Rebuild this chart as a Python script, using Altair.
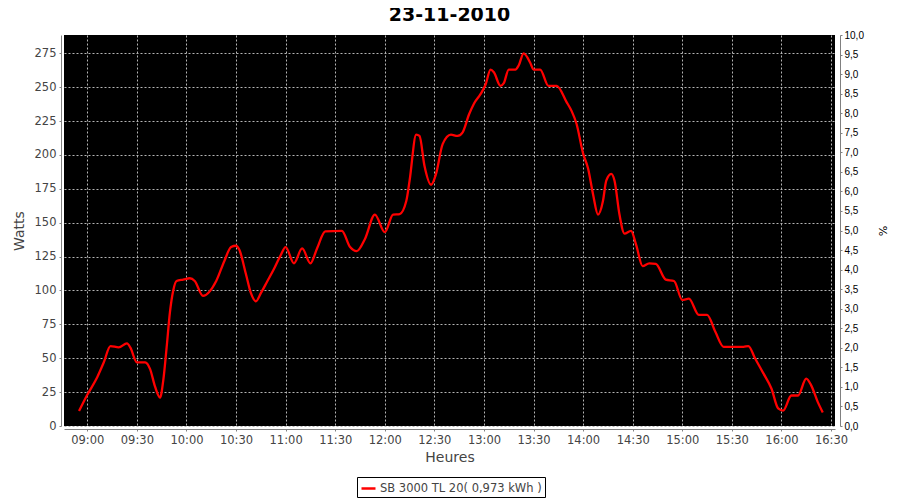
import altair as alt
import pandas as pd

# ---- data ----
times = ["08:55", "09:00", "09:06", "09:10", "09:14", "09:19", "09:24", "09:26", "09:30", "09:35",
         "09:38", "09:41", "09:44", "09:46", "09:48", "09:50", "09:52", "09:54", "09:58", "10:02",
         "10:05", "10:10", "10:18", "10:23", "10:27", "10:30", "10:32", "10:36", "10:39", "10:42",
         "10:45", "10:49", "10:53", "10:57", "11:00", "11:05", "11:10", "11:15", "11:19", "11:24",
         "11:34", "11:39", "11:43", "11:48", "11:54", "12:00", "12:05", "12:09", "12:13", "12:15",
         "12:19", "12:21", "12:24", "12:28", "12:31", "12:35", "12:40", "12:44", "12:47", "12:51",
         "12:54", "12:58", "13:01", "13:04", "13:06", "13:10", "13:12", "13:15", "13:19", "13:21",
         "13:24", "13:28", "13:30", "13:34", "13:39", "13:44", "13:50", "13:53", "13:56", "14:00",
         "14:03", "14:06", "14:09", "14:12", "14:14", "14:17", "14:19", "14:22", "14:25", "14:29",
         "14:32", "14:36", "14:40", "14:44", "14:50", "14:55", "15:00", "15:04", "15:10", "15:15",
         "15:20", "15:25", "15:31", "15:37", "15:40", "15:44", "15:49", "15:54", "15:58", "16:01",
         "16:06", "16:10", "16:15", "16:18", "16:22", "16:25"]
watts = [11, 23, 36, 47, 59, 58, 61, 58, 47, 47,
         42, 29, 21, 34, 58, 84, 100, 107, 108, 109,
         107, 96, 107, 122, 132, 133, 130, 112, 98, 92,
         98, 107, 116, 126, 132, 120, 131, 120, 131, 143.6,
         144, 132, 129, 138, 156, 143, 156, 156.4, 166, 181,
         215, 214, 192, 178, 186, 208, 215, 214, 216.5, 230,
         238, 245, 252, 263, 261, 251, 253, 263, 263, 266,
         275, 268, 263, 263, 251, 251, 239, 232.5, 223, 201,
         190, 171, 156, 166, 181, 186, 181, 156, 142, 144,
         134, 118, 120, 119.6, 108, 107, 93, 94, 82, 82,
         69.5, 58.4, 58.4, 58.4, 59, 50, 39, 27.5, 13, 11.4,
         22.5, 22.5, 35, 30, 17.6, 10]
series_name = "SB 3000 TL 20( 0,973 kWh )"
pct_axis = [0, 10]

x_ticks = [540 + 30 * i for i in range(16)]          # 09:00 .. 16:30
y_ticks = [25 * i for i in range(12)]                # 0 .. 275
pct_ticks = [0.5 * i for i in range(21)]             # 0,0 .. 10,0


def to_min(s):
    h, m = s.split(":")
    return int(h) * 60 + int(m)


df = pd.DataFrame({"t": [to_min(s) for s in times], "w": watts, "serie": series_name})
pct_df = pd.DataFrame({"pct": pct_axis})

FONT = "DejaVu Sans"
AXIS_GRAY = "#808080"
LABEL_GRAY = "#444444"

hhmm = ("pad(toString(floor(datum.value / 60)), 2, '0', 'left') + ':' + "
        "pad(toString(datum.value % 60), 2, '0', 'left')")

line = alt.Chart(df).mark_line(interpolate="monotone", strokeWidth=2.3, clip=True).encode(
    x=alt.X("t:Q",
            scale=alt.Scale(domain=[525.9, 992.4], nice=False, zero=False),
            axis=alt.Axis(values=x_ticks, labelExpr=hhmm, title="Heures",
                          offset=3, domainColor=AXIS_GRAY, tickColor=AXIS_GRAY, tickSize=2,
                          labelColor=LABEL_GRAY, labelFont=FONT, labelFontSize=11.5,
                          labelPadding=3, labelFlush=False,
                          titleFont=FONT, titleFontSize=14, titleFontWeight="normal",
                          titleColor=LABEL_GRAY, titlePadding=5,
                          grid=True, gridColor="#b4b4b4", gridDash=[2, 2], gridWidth=1)),
    y=alt.Y("w:Q",
            scale=alt.Scale(domain=[0, 288.5], nice=False),
            axis=alt.Axis(values=y_ticks, title="Watts",
                          offset=3, domainColor=AXIS_GRAY, tickColor=AXIS_GRAY, tickSize=2,
                          labelColor=LABEL_GRAY, labelFont=FONT, labelFontSize=11.5,
                          labelPadding=3, labelFlush=False,
                          titleFont=FONT, titleFontSize=14, titleFontWeight="normal",
                          titleColor=LABEL_GRAY, titlePadding=8,
                          grid=True, gridColor="#b4b4b4", gridDash=[2, 2], gridWidth=1)),
    color=alt.Color("serie:N",
                    scale=alt.Scale(range=["#ff0000"]),
                    legend=alt.Legend(title=None, orient="none", legendX=293, legendY=442,
                                      strokeColor="black", fillColor="white", padding=3,
                                      symbolType="stroke", symbolStrokeWidth=2.5, symbolSize=196,
                                      labelFont=FONT, labelFontSize=11.5, labelColor=LABEL_GRAY,
                                      labelOffset=3, labelLimit=400)),
)

right = alt.Chart(pct_df).mark_point(opacity=0).encode(
    y=alt.Y("pct:Q",
            scale=alt.Scale(domain=[0, 10], nice=False),
            axis=alt.Axis(orient="right", values=pct_ticks, title="%",
                          labelExpr="replace(format(datum.value, '.1f'), '.', ',')",
                          offset=5, domainColor=AXIS_GRAY, tickColor=AXIS_GRAY, tickSize=2,
                          labelColor="black", labelFont="Liberation Sans", labelFontSize=10,
                          labelPadding=2, labelFlush=False,
                          titleFont=FONT, titleFontSize=11, titleFontWeight="normal",
                          titleColor="black", titlePadding=13, grid=False)),
)

chart = alt.layer(line, right).resolve_scale(y="independent").properties(
    width=771,
    height=391,
    autosize=alt.AutoSizeParams(type="none"),
    padding={"left": 56, "top": 27, "right": 57, "bottom": 72},
    background="white",
    title=alt.TitleParams(text="23-11-2010", font=FONT, fontSize=19, fontWeight="bold",
                          color="black", anchor="middle", offset=5),
).configure_view(fill="black", strokeWidth=0)

chart.save("out.html", embed_options={"renderer": "svg", "actions": False})
